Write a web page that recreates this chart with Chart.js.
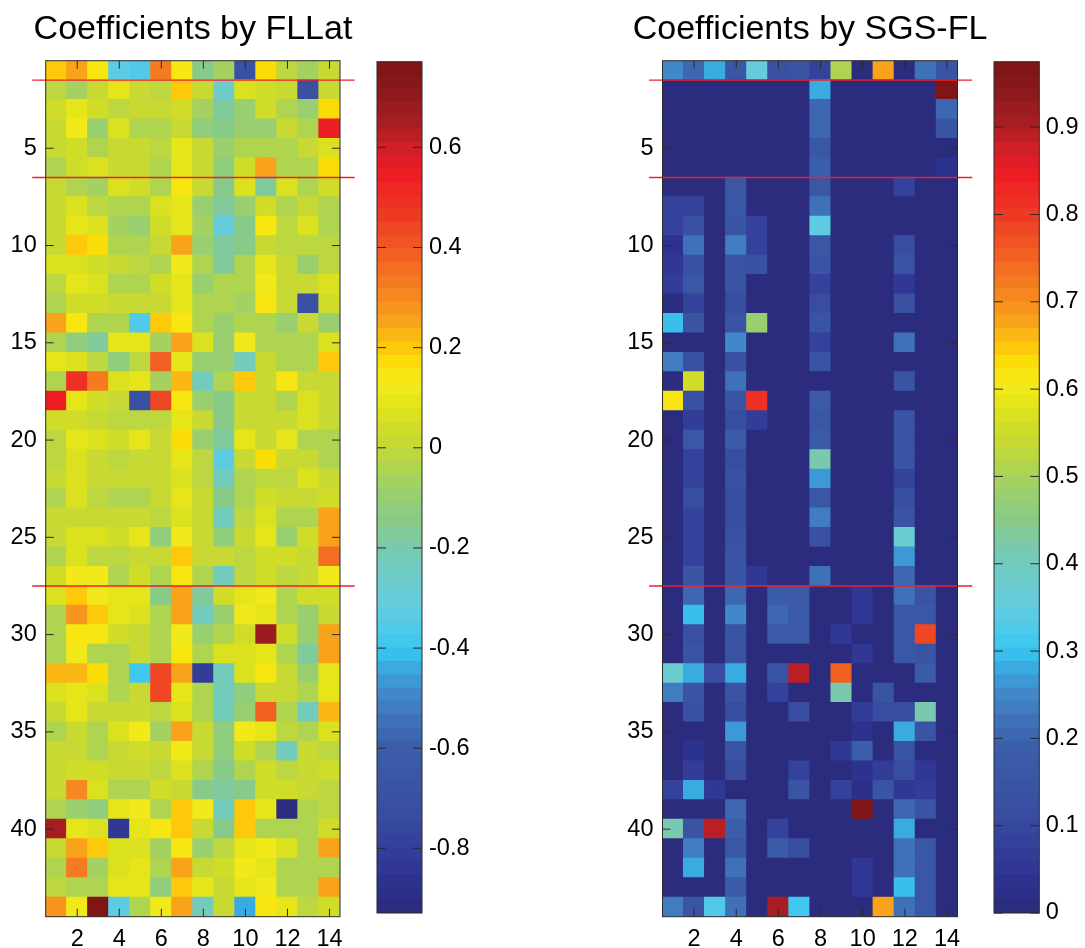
<!DOCTYPE html>
<html>
<head>
<meta charset="utf-8">
<title>Coefficients</title>
<script src="https://cdn.jsdelivr.net/npm/chart.js@4.4.1/dist/chart.umd.min.js"></script>
<style>
  body { margin: 0; background: #fff; }
  #lienzo { position: relative; width: 1085px; height: 948px; overflow: hidden; }
  canvas { position: absolute; top: 0; }
</style>
</head>
<body>
<div id="lienzo">
  <canvas id="mapa1" width="386" height="948" style="left:0px"></canvas>
  <canvas id="barra1" width="120" height="948" style="left:360px"></canvas>
  <canvas id="mapa2" width="390" height="948" style="left:614.8px"></canvas>
  <canvas id="barra2" width="110" height="948" style="left:975px"></canvas>
</div>
<script>
// ---- datos ----
var columnas = [1, 2, 3, 4, 5, 6, 7, 8, 9, 10, 11, 12, 13, 14];
var ticksX = [2, 4, 6, 8, 10, 12, 14];
var ticksY = [5, 10, 15, 20, 25, 30, 35, 40];
var cortes = [1.5, 6.5, 27.5];          // lineas rojas entre filas
var extremosCorte = [-0.14, 15.2];      // desde / hasta (unidades de columna)

var ticksBarra1 = [-0.8, -0.6, -0.4, -0.2, 0, 0.2, 0.4, 0.6];
var ticksBarra2 = [0, 0.1, 0.2, 0.3, 0.4, 0.5, 0.6, 0.7, 0.8, 0.9];
var limitesFLLat = [-0.929, 0.771];
var limitesSGS = [0, 0.975];

var filasFLLat = [
  [0.21, 0.24, 0.14, -0.32, -0.37, 0.32, 0.14, -0.15, -0.07, -0.7, 0.18, 0.0, -0.07, 0.02],
  [0.0, -0.07, 0.01, 0.09, 0.02, -0.01, 0.21, 0.02, -0.24, 0.06, 0.04, 0.02, -0.7, 0.02],
  [0.04, 0.09, 0.04, -0.01, 0.01, 0.01, 0.04, -0.06, -0.18, -0.08, 0.04, -0.05, -0.1, 0.18],
  [0.01, 0.12, -0.08, 0.08, -0.03, -0.03, 0.02, -0.12, -0.14, -0.08, -0.08, 0.02, -0.05, 0.55],
  [0.02, 0.04, -0.03, 0.02, 0.02, -0.01, 0.1, 0.02, -0.1, -0.03, -0.03, -0.05, 0.02, 0.08],
  [-0.05, 0.04, 0.07, 0.02, 0.02, -0.05, 0.1, 0.02, -0.12, 0.04, 0.255, -0.03, -0.03, 0.18],
  [0.01, -0.05, -0.07, 0.08, 0.05, -0.03, 0.14, 0.02, -0.14, 0.08, -0.17, 0.08, -0.05, 0.04],
  [0.01, 0.08, -0.01, -0.03, -0.03, 0.06, 0.1, -0.08, -0.18, -0.1, 0.04, -0.03, 0.02, -0.05],
  [0.01, 0.1, 0.08, -0.07, -0.1, 0.04, 0.1, -0.07, -0.3, -0.14, 0.14, -0.01, 0.06, -0.05],
  [0.01, 0.21, 0.18, -0.05, -0.05, 0.02, 0.24, -0.1, -0.18, -0.15, 0.01, -0.01, -0.01, -0.01],
  [0.06, 0.06, 0.04, 0.02, -0.01, -0.05, 0.12, -0.05, -0.16, -0.05, 0.1, 0.02, -0.1, -0.01],
  [-0.01, 0.09, 0.06, -0.03, -0.03, 0.04, 0.09, -0.08, -0.05, -0.05, 0.12, 0.02, 0.02, 0.06],
  [-0.03, 0.04, 0.04, 0.02, 0.02, 0.02, 0.09, -0.05, -0.05, -0.07, 0.14, 0.02, -0.7, 0.04],
  [0.26, 0.14, -0.05, -0.05, -0.37, 0.21, 0.14, -0.05, -0.1, -0.05, -0.05, -0.1, 0.02, -0.1],
  [-0.05, -0.12, -0.18, 0.09, 0.09, -0.07, 0.26, 0.08, -0.08, 0.12, -0.03, -0.03, -0.03, 0.06],
  [0.09, 0.06, -0.01, -0.12, -0.01, 0.38, 0.09, -0.08, -0.1, -0.22, 0.02, -0.03, -0.03, 0.21],
  [-0.05, 0.5, 0.32, 0.08, 0.09, -0.07, 0.22, -0.22, -0.05, 0.19, 0.02, 0.14, 0.02, 0.02],
  [0.55, 0.09, 0.04, 0.01, -0.7, 0.45, 0.14, -0.08, -0.14, 0.02, 0.02, -0.05, 0.06, 0.02],
  [0.04, 0.04, 0.02, -0.01, -0.01, -0.01, 0.09, 0.02, -0.14, 0.02, 0.02, 0.02, 0.06, 0.02],
  [-0.01, 0.1, 0.06, 0.04, 0.1, 0.02, 0.18, -0.08, -0.18, 0.1, 0.02, 0.1, -0.05, -0.05],
  [-0.01, 0.06, 0.02, -0.01, 0.02, 0.02, 0.09, -0.01, -0.34, 0.01, 0.18, 0.02, 0.02, -0.05],
  [0.01, 0.06, 0.01, 0.01, 0.01, 0.02, 0.06, -0.01, -0.23, -0.05, -0.01, -0.01, 0.06, 0.02],
  [-0.03, 0.08, -0.01, -0.03, -0.03, 0.02, 0.1, 0.01, -0.14, -0.05, 0.04, 0.02, 0.02, 0.04],
  [0.02, 0.02, 0.02, 0.01, 0.01, -0.01, 0.06, 0.02, -0.22, -0.01, 0.06, -0.03, -0.03, 0.24],
  [0.02, 0.06, 0.06, 0.04, 0.1, -0.12, 0.12, 0.02, -0.12, 0.02, 0.09, -0.1, 0.04, 0.24],
  [-0.03, 0.06, -0.01, -0.01, 0.02, 0.02, 0.19, 0.01, 0.01, -0.01, 0.04, 0.04, 0.02, 0.355],
  [0.04, 0.12, 0.12, -0.03, 0.04, -0.05, 0.14, -0.05, -0.22, -0.01, 0.04, -0.01, 0.02, 0.12],
  [0.06, 0.21, 0.12, 0.1, 0.1, -0.14, 0.24, -0.18, 0.04, 0.1, 0.12, -0.03, 0.04, 0.04],
  [-0.03, 0.27, 0.21, 0.09, 0.08, -0.05, 0.24, -0.22, -0.1, 0.12, 0.09, -0.03, -0.1, 0.02],
  [-0.03, 0.14, 0.14, 0.04, 0.02, -0.03, 0.12, -0.1, -0.05, 0.04, 0.68, 0.04, -0.08, 0.26],
  [-0.03, 0.12, -0.03, -0.03, 0.02, -0.03, 0.14, -0.05, 0.08, 0.08, 0.1, -0.05, -0.18, 0.24],
  [0.23, 0.23, 0.18, -0.03, -0.39, 0.45, 0.255, -0.8, -0.22, 0.08, 0.14, 0.02, -0.1, 0.09],
  [0.06, 0.09, 0.06, -0.05, 0.01, 0.45, 0.09, -0.05, -0.22, -0.12, 0.02, 0.02, -0.05, 0.09],
  [0.01, 0.1, 0.01, 0.01, 0.01, -0.01, 0.06, -0.05, -0.22, -0.08, 0.38, -0.05, -0.22, 0.22],
  [-0.05, 0.01, -0.03, 0.08, 0.12, -0.07, 0.255, 0.02, -0.12, 0.12, 0.1, -0.01, -0.03, 0.06],
  [0.01, 0.01, -0.05, 0.02, 0.04, 0.02, 0.12, 0.02, -0.12, 0.04, -0.05, -0.22, 0.02, -0.01],
  [0.01, 0.04, 0.04, 0.01, 0.01, -0.01, 0.06, -0.05, -0.14, -0.05, 0.04, -0.01, 0.02, 0.04],
  [0.01, 0.3, 0.06, -0.05, -0.05, 0.04, 0.02, -0.15, -0.18, -0.15, 0.04, 0.04, 0.01, -0.01],
  [-0.05, -0.1, -0.12, 0.1, 0.12, -0.05, 0.21, 0.12, -0.22, 0.21, 0.09, -0.91, -0.05, -0.01],
  [0.65, 0.1, 0.06, -0.83, 0.1, 0.14, 0.2, 0.01, -0.15, 0.2, -0.03, -0.03, -0.03, 0.04],
  [0.01, 0.255, 0.21, 0.06, 0.06, -0.07, 0.14, -0.1, -0.01, 0.09, 0.12, 0.06, -0.05, 0.255],
  [-0.05, 0.32, -0.07, 0.06, 0.1, -0.05, 0.24, 0.02, 0.04, 0.12, 0.1, -0.03, -0.05, -0.05],
  [-0.01, -0.05, -0.05, 0.1, 0.1, -0.12, 0.21, 0.09, 0.01, 0.09, 0.12, -0.05, -0.05, 0.255],
  [0.27, 0.12, 0.76, -0.32, -0.05, 0.12, 0.255, -0.22, 0.02, -0.45, 0.14, 0.09, -0.01, 0.04]
];

var filasSGS = [
  [0.25, 0.21, 0.28, 0.16, 0.36, 0.13, 0.15, 0.09, 0.51, 0.01, 0.68, 0.01, 0.22, 0.15],
  [0, 0, 0, 0, 0, 0, 0, 0.28, 0, 0, 0, 0, 0, 0.96],
  [0, 0, 0, 0, 0, 0, 0, 0.2, 0, 0, 0, 0, 0, 0.2],
  [0, 0, 0, 0, 0, 0, 0, 0.2, 0, 0, 0, 0, 0, 0.14],
  [0, 0, 0, 0, 0, 0, 0, 0.16, 0, 0, 0, 0, 0, 0.01],
  [0, 0, 0, 0, 0, 0, 0, 0.19, 0, 0, 0, 0, 0, 0.04],
  [0, 0, 0, 0.16, 0, 0, 0, 0.16, 0, 0, 0, 0.08, 0, 0],
  [0.08, 0.08, 0, 0.16, 0, 0, 0, 0.22, 0, 0, 0, 0, 0, 0],
  [0.08, 0.13, 0, 0.15, 0.08, 0, 0, 0.35, 0, 0, 0, 0, 0, 0],
  [0.04, 0.22, 0, 0.23, 0.08, 0, 0, 0.16, 0, 0, 0, 0.12, 0, 0],
  [0.06, 0.13, 0, 0.15, 0.13, 0, 0, 0.15, 0, 0, 0, 0.14, 0, 0],
  [0.07, 0.16, 0, 0.14, 0, 0, 0, 0.08, 0, 0, 0, 0.06, 0, 0],
  [0.01, 0.08, 0, 0.12, 0, 0, 0, 0.12, 0, 0, 0, 0.13, 0, 0],
  [0.3, 0.14, 0, 0.14, 0.48, 0, 0, 0.14, 0, 0, 0, 0, 0, 0],
  [0, 0, 0, 0.25, 0, 0, 0, 0.08, 0, 0, 0, 0.22, 0, 0],
  [0.24, 0.13, 0, 0.13, 0, 0, 0, 0.14, 0, 0, 0, 0, 0, 0],
  [0, 0.55, 0, 0.22, 0, 0, 0, 0, 0, 0, 0, 0.14, 0, 0],
  [0.61, 0.13, 0, 0.15, 0.81, 0, 0, 0.17, 0, 0, 0, 0, 0, 0],
  [0, 0.07, 0, 0.12, 0.07, 0, 0, 0.16, 0, 0, 0, 0.14, 0, 0],
  [0, 0.16, 0, 0.18, 0, 0, 0, 0.18, 0, 0, 0, 0.14, 0, 0],
  [0, 0.08, 0, 0.12, 0, 0, 0, 0.42, 0, 0, 0, 0.15, 0, 0],
  [0, 0.08, 0, 0.13, 0, 0, 0, 0.27, 0, 0, 0, 0.08, 0, 0],
  [0, 0.12, 0, 0.12, 0, 0, 0, 0.16, 0, 0, 0, 0.12, 0, 0],
  [0, 0.08, 0, 0.12, 0, 0, 0, 0.24, 0, 0, 0, 0.15, 0, 0],
  [0, 0.08, 0, 0.13, 0, 0, 0, 0.13, 0, 0, 0, 0.37, 0, 0],
  [0, 0.08, 0, 0.15, 0, 0, 0, 0, 0, 0, 0, 0.26, 0, 0],
  [0, 0.15, 0, 0.15, 0.06, 0, 0, 0.22, 0, 0, 0, 0.2, 0, 0],
  [0, 0.21, 0, 0.2, 0, 0.18, 0.18, 0, 0, 0.05, 0, 0.22, 0.15, 0],
  [0, 0.29, 0, 0.25, 0, 0.2, 0.18, 0, 0, 0.05, 0, 0.16, 0.16, 0],
  [0, 0.13, 0, 0.14, 0, 0.18, 0.18, 0, 0.05, 0, 0, 0.16, 0.79, 0],
  [0, 0.15, 0, 0.14, 0, 0, 0, 0, 0, 0.05, 0, 0.16, 0.15, 0],
  [0.38, 0.28, 0.12, 0.28, 0, 0.15, 0.89, 0, 0.75, 0, 0, 0, 0.18, 0],
  [0.24, 0.14, 0, 0.14, 0, 0.08, 0, 0, 0.42, 0, 0.14, 0, 0, 0],
  [0, 0.13, 0, 0.12, 0, 0, 0.12, 0, 0, 0.07, 0.11, 0.11, 0.42, 0],
  [0, 0, 0, 0.26, 0, 0, 0, 0, 0, 0.04, 0, 0.28, 0.14, 0],
  [0, 0.04, 0, 0.14, 0, 0, 0, 0, 0.05, 0.19, 0, 0.14, 0.01, 0],
  [0, 0.07, 0, 0.12, 0, 0, 0.08, 0, 0, 0.04, 0.07, 0.11, 0.05, 0],
  [0.08, 0.28, 0.05, 0, 0, 0, 0.15, 0, 0.09, 0.02, 0.14, 0.05, 0.07, 0],
  [0, 0, 0, 0.2, 0, 0, 0, 0, 0, 0.96, 0, 0.2, 0.14, 0],
  [0.42, 0.14, 0.89, 0.19, 0, 0.08, 0, 0, 0, 0, 0, 0.28, 0, 0],
  [0, 0.24, 0, 0.16, 0, 0.18, 0.12, 0, 0, 0, 0, 0.22, 0.16, 0],
  [0, 0.28, 0, 0.22, 0, 0, 0, 0, 0, 0.05, 0, 0.22, 0.16, 0],
  [0, 0, 0, 0.18, 0, 0, 0, 0, 0, 0.05, 0, 0.3, 0.16, 0],
  [0.24, 0.14, 0.33, 0.22, 0, 0.9, 0.31, 0, 0, 0, 0.68, 0.22, 0.16, 0]
];

// ---- mapa de colores (64 niveles) ----
var anclas = [
  [0, "#2a2a7a"], [0.04, "#2d3290"], [0.076, "#343f9a"], [0.135, "#3a51a2"], [0.194, "#3b5da9"],
  [0.223, "#3e6fb6"], [0.252, "#4282c6"], [0.27, "#3e95d3"], [0.29, "#3aace2"], [0.311, "#38c7f2"],
  [0.341, "#56cae6"], [0.37, "#68ccda"], [0.4, "#6fccc8"], [0.429, "#78c9af"], [0.458, "#86cb8c"],
  [0.488, "#96ce72"], [0.517, "#aad357"], [0.546, "#c2d837"], [0.564, "#ccdb2c"], [0.594, "#e1e31a"],
  [0.623, "#f5eb1a"], [0.646, "#fadf05"], [0.664, "#fdc90a"], [0.676, "#fcbd12"], [0.693, "#f9a51b"],
  [0.723, "#f68b1f"], [0.752, "#f37321"], [0.782, "#f15a22"], [0.811, "#ef4123"], [0.841, "#ee2b24"],
  [0.87, "#ed1c24"], [0.899, "#cf1f26"], [0.929, "#a81d22"], [0.958, "#8f1a1e"], [1, "#7b1416"]
];
var NIVELES = 64;

function hexRgb(h) {
  return [parseInt(h.substr(1, 2), 16), parseInt(h.substr(3, 2), 16), parseInt(h.substr(5, 2), 16)];
}

function construirPaleta(n) {
  let paleta = [];
  for (let i = 0; i < n; i++) {
    let t = (i + 0.5) / n;
    let k = 0;
    while (k < anclas.length - 2 && anclas[k + 1][0] < t) k++;
    let a = anclas[k], b = anclas[k + 1];
    let f = (t - a[0]) / (b[0] - a[0]);
    let ca = hexRgb(a[1]), cb = hexRgb(b[1]);
    let c = ca.map((v, j) => Math.round(v + (cb[j] - v) * f));
    paleta.push("rgb(" + c.join(",") + ")");
  }
  return paleta;
}
var paleta = construirPaleta(NIVELES);

function colorDe(v, lim) {
  let k = Math.floor(((v - lim[0]) / (lim[1] - lim[0])) * NIVELES);
  return paleta[Math.max(0, Math.min(NIVELES - 1, k))];
}

// ---- estilo comun ----
Chart.defaults.font.family = '"Liberation Sans", Arial, Helvetica, sans-serif';
Chart.defaults.color = "#000";
Chart.defaults.animation = false;

var fuenteTicks = { size: 23.5 };

// marco y marcas de tick hacia dentro (como matlab)
var marco = {
  id: "marco",
  afterDraw(chart, args, opts) {
    const ctx = chart.ctx;
    const a = chart.chartArea;
    const largo = opts.largo || 8;
    ctx.save();
    ctx.strokeStyle = "#2a2a2a";
    ctx.lineWidth = 1;
    ctx.strokeRect(a.left, a.top, a.right - a.left, a.bottom - a.top);
    for (const id in chart.scales) {
      const s = chart.scales[id];
      if (s.options.display === false || s.options.ticks.display === false) continue;
      s.ticks.forEach(t => {
        const p = s.getPixelForValue(t.value);
        ctx.beginPath();
        if (s.isHorizontal()) {
          ctx.moveTo(p, a.bottom); ctx.lineTo(p, a.bottom - largo);
          ctx.moveTo(p, a.top); ctx.lineTo(p, a.top + largo);
        } else {
          ctx.moveTo(a.left, p); ctx.lineTo(a.left + largo, p);
          ctx.moveTo(a.right, p); ctx.lineTo(a.right - largo, p);
        }
        ctx.stroke();
      });
    }
    ctx.restore();
  }
};

function crearMapa(idCanvas, titulo, filas, limites, anchoEjeY, margenDer) {
  let celdas = [];
  let colores = [];
  filas.forEach((fila, r) => {
    fila.forEach((v, c) => {
      celdas.push({ x: columnas[c], y: [r + 0.5, r + 1.5] });
      colores.push(colorDe(v, limites));
    });
  });

  let datasets = [{
    type: "bar",
    data: celdas,
    backgroundColor: colores,
    borderWidth: 0,
    barPercentage: 1,
    categoryPercentage: 1,
    inflateAmount: 0.6,
    order: 1
  }];

  cortes.forEach(y => {
    datasets.push({
      type: "line",
      data: [{ x: extremosCorte[0], y: y }, { x: extremosCorte[1], y: y }],
      borderColor: "rgb(240,32,42)",
      borderWidth: 1.4,
      pointRadius: 0,
      fill: false,
      clip: false,
      order: 0
    });
  });

  return new Chart(document.getElementById(idCanvas), {
    type: "bar",
    data: { datasets: datasets },
    options: {
      responsive: false,
      layout: { padding: 0 },
      plugins: {
        legend: { display: false },
        tooltip: { enabled: false },
        title: {
          display: true,
          text: titulo,
          color: "#000",
          font: { size: 34, weight: "normal" },
          padding: { top: 9.5, bottom: 10.4 }
        },
        marco: { largo: 8 }
      },
      scales: {
        x: {
          type: "linear",
          min: 0.5,
          max: 14.5,
          offset: false,
          grid: { display: false, drawTicks: false },
          border: { display: false },
          ticks: { font: fuenteTicks, padding: 9, maxRotation: 0 },
          afterBuildTicks: s => { s.ticks = ticksX.map(v => ({ value: v })); },
          afterFit: s => { s.height = 31.3; }
        },
        y: {
          type: "linear",
          reverse: true,
          min: 0.5,
          max: 44.5,
          grid: { display: false, drawTicks: false },
          border: { display: false },
          ticks: { font: fuenteTicks, padding: 9 },
          afterBuildTicks: s => { s.ticks = ticksY.map(v => ({ value: v })); },
          afterFit: s => { s.width = anchoEjeY; }
        },
        // margen derecho vacio, para que el titulo quede centrado sobre el mapa
        margen: {
          type: "linear",
          position: "right",
          grid: { display: false, drawTicks: false },
          border: { display: false },
          ticks: { display: false },
          afterFit: s => { s.width = margenDer; }
        }
      }
    },
    plugins: [marco]
  });
}

function crearBarra(idCanvas, limites, ticks, margenIzq, anchoEje, relleno) {
  let paso = (limites[1] - limites[0]) / NIVELES;
  let tramos = [];
  for (let i = 0; i < NIVELES; i++) {
    tramos.push({ x: 0, y: [limites[0] + i * paso, limites[0] + (i + 1) * paso] });
  }
  return new Chart(document.getElementById(idCanvas), {
    type: "bar",
    data: {
      datasets: [{
        data: tramos,
        backgroundColor: paleta,
        borderWidth: 0,
        barPercentage: 1,
        categoryPercentage: 1,
        inflateAmount: 0.6
      }]
    },
    options: {
      responsive: false,
      layout: { padding: { left: margenIzq, right: 0, top: 61.7, bottom: 35 } },
      plugins: {
        legend: { display: false },
        tooltip: { enabled: false },
        marco: { largo: 9 }
      },
      scales: {
        x: {
          type: "linear",
          display: false,
          min: -0.5,
          max: 0.5,
          afterBuildTicks: s => { s.ticks = []; }
        },
        y: {
          type: "linear",
          position: "right",
          min: limites[0],
          max: limites[1],
          grid: { display: false, drawTicks: false },
          border: { display: false },
          ticks: {
            font: fuenteTicks,
            padding: relleno,
            callback: v => (v === 0 ? "0" : v.toFixed(1))
          },
          afterBuildTicks: s => { s.ticks = ticks.map(v => ({ value: v })); },
          afterFit: s => { s.width = anchoEje; }
        }
      }
    },
    plugins: [marco]
  });
}

crearMapa("mapa1", "Coefficients by FLLat", filasFLLat, limitesFLLat, 45.7, 46);
crearBarra("barra1", limitesFLLat, ticksBarra1, 17, 58, 7);
crearMapa("mapa2", "Coefficients by SGS-FL", filasSGS, limitesSGS, 47.5, 47.5);
crearBarra("barra2", limitesSGS, ticksBarra2, 19, 45.7, 6.5);
</script>
</body>
</html>
